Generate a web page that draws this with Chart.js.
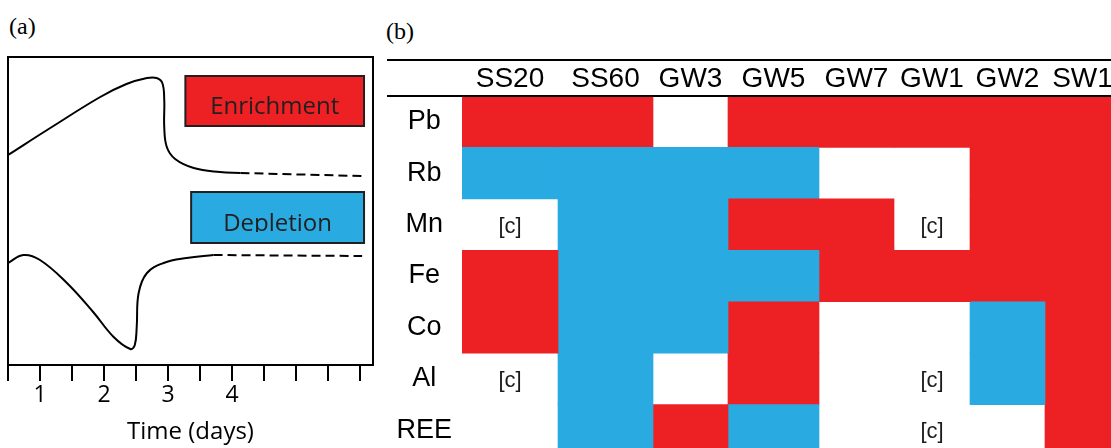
<!DOCTYPE html>
<html>
<head>
<meta charset="utf-8">
<script src="https://cdn.jsdelivr.net/npm/chart.js@4.4.0/dist/chart.umd.min.js"></script>
<style>
  html, body { margin: 0; padding: 0; background: #fff; overflow: hidden; width: 1111px; height: 448px; }
  #timeChart { position: absolute; left: 0; top: 0; }
  #tableChart { position: absolute; left: 380px; top: 0; }
  .panel { position: absolute; font-family: 'Liberation Serif', 'Times New Roman', serif; font-size: 24px; line-height: 24px; color: #000; }
</style>
</head>
<body>
<div class="panel" style="left:9px; top:14px;">(a)</div>
<div class="panel" style="left:386px; top:19px;">(b)</div>
<canvas id="timeChart" width="380" height="448"></canvas>
<canvas id="tableChart" width="740" height="456"></canvas>
<script>
const RED = '#ED2024';
const BLUE = '#29ABE2';
const INK = '#231F20';

// ---- panel (a): schematic response over time ----
const timeLabels = [1, 2, 3, 4];
const enrichX = [0.5, 1.16, 1.94, 2.35, 2.67, 2.82, 2.91, 2.94, 2.94, 2.98, 3.11, 3.40, 3.81, 4.13];
const enrichY = [210, 237, 268, 281, 287, 287, 282, 265, 238, 218, 206, 197, 193, 192];
const enrichTailX = [4.13, 6.03];
const enrichTailY = [192, 189];
const depleteX = [0.5, 0.74, 1.0, 1.42, 1.83, 2.15, 2.41, 2.48, 2.51, 2.54, 2.67, 2.93, 3.29, 3.71];
const depleteY = [102, 110, 105, 82, 53, 28, 16, 20, 38, 72, 92, 102, 107, 110];
const depleteTailX = [3.71, 6.03];
const depleteTailY = [110, 109];

// ---- panel (b): behaviour of each element at each site ----
const elements = ['Pb', 'Rb', 'Mn', 'Fe', 'Co', 'Al', 'REE'];
const sites = ['SS20', 'SS60', 'GW3', 'GW5', 'GW7', 'GW1', 'GW2', 'SW1'];
// E = enrichment, D = depletion, '' = neither, c = [c]
const Pb  = ['E', 'E', '',  'E', 'E', 'E', 'E', 'E'];
const Rb  = ['D', 'D', 'D', 'D', '',  '',  'E', 'E'];
const Mn  = ['c', 'D', 'D', 'E', 'E', 'c', 'E', 'E'];
const Fe  = ['E', 'D', 'D', 'D', 'E', 'E', 'E', 'E'];
const Co  = ['E', 'D', 'D', 'E', '',  '',  'D', 'E'];
const Al  = ['c', 'D', '',  'E', '',  'c', 'D', 'E'];
const REE = ['',  'D', 'E', 'D', '',  'c', '',  'E'];
const rows = [Pb, Rb, Mn, Fe, Co, Al, REE];

// table layout (pixel widths of the columns)
const colWidths = [96, 95, 75, 91, 75, 76, 75, 75];
const headerTop = 60;

const edges = [0];
colWidths.forEach(w => edges.push(edges[edges.length - 1] + w));

const keyBoxes = [
  { text: 'Enrichment', color: RED, x0: 3.27, x1: 6.06, y0: 239, y1: 289 },
  { text: 'Depletion', color: BLUE, x0: 3.36, x1: 6.06, y0: 122, y1: 173 }
];

function curve(xs, ys, dashed) {
  return {
    data: xs.map((x, i) => ({ x: x, y: ys[i] })),
    showLine: true,
    borderColor: '#000',
    borderWidth: 2,
    pointRadius: 0,
    tension: dashed ? 0 : 0.4,
    borderDash: dashed ? [9, 5] : []
  };
}

const timeDecor = {
  id: 'timeDecor',
  beforeDatasetsDraw(chart) {
    const ctx = chart.ctx;
    const x = chart.scales.x, y = chart.scales.y;
    keyBoxes.forEach(b => {
      const l = x.getPixelForValue(b.x0), r = x.getPixelForValue(b.x1);
      const t = y.getPixelForValue(b.y1), btm = y.getPixelForValue(b.y0);
      ctx.save();
      ctx.fillStyle = b.color;
      ctx.fillRect(l, t, r - l, btm - t);
      ctx.strokeStyle = INK;
      ctx.lineWidth = 2;
      ctx.strokeRect(l, t, r - l, btm - t);
      const base = btm - 12.5;
      ctx.beginPath();
      ctx.rect(l, t, r - l, base + 1.5 - t);
      ctx.clip();
      ctx.fillStyle = INK;
      ctx.font = '24px "Open Sans", sans-serif';
      ctx.textAlign = 'center';
      ctx.textBaseline = 'alphabetic';
      ctx.fillText(b.text, (l + r) / 2, base);
      ctx.restore();
    });
  },
  afterDraw(chart) {
    const ctx = chart.ctx, a = chart.chartArea;
    ctx.save();
    ctx.strokeStyle = '#000';
    ctx.lineWidth = 2;
    ctx.strokeRect(a.left, a.top, a.right - a.left, a.bottom - a.top);
    ctx.restore();
  }
};

new Chart(document.getElementById('timeChart'), {
  type: 'scatter',
  data: {
    datasets: [
      curve(enrichX, enrichY, false),
      curve(enrichTailX, enrichTailY, true),
      curve(depleteX, depleteY, false),
      curve(depleteTailX, depleteTailY, true)
    ]
  },
  options: {
    responsive: false,
    animation: false,
    layout: { padding: { left: 8, right: 7, top: 57, bottom: 0 } },
    plugins: { legend: { display: false }, tooltip: { enabled: false } },
    scales: {
      x: {
        type: 'linear', min: 0.5, max: 6.2,
        afterFit: s => { s.height = 83; },
        border: { display: false },
        grid: { drawOnChartArea: false, drawTicks: true, tickLength: 16, color: '#000', lineWidth: 2 },
        ticks: {
          stepSize: 0.5, includeBounds: false, autoSkip: false, maxRotation: 0, padding: 1,
          color: '#000', font: { family: 'Open Sans', size: 23 },
          callback: v => timeLabels.includes(v) ? String(v) : ''
        },
        title: {
          display: true, text: 'Time (days)', color: '#000', align: 'center',
          font: { family: 'Open Sans', size: 24 }, padding: { top: 0, bottom: 1 }
        }
      },
      y: { type: 'linear', min: 0, max: 308, display: false }
    }
  },
  plugins: [timeDecor]
});

// ---- panel (b) ----
const cellColor = { E: RED, D: BLUE, '': 'rgba(0,0,0,0)', c: 'rgba(0,0,0,0)' };

const tableSets = sites.map((site, j) => ({
  label: site,
  data: rows.map(() => [edges[j], edges[j + 1]]),
  backgroundColor: rows.map(r => cellColor[r[j]]),
  borderWidth: 0,
  grouped: false,
  barPercentage: 1,
  categoryPercentage: 1
}));

const cellNotes = {
  id: 'cellNotes',
  afterDatasetsDraw(chart) {
    const ctx = chart.ctx;
    ctx.save();
    ctx.font = '22px "Liberation Sans", Arial, sans-serif';
    ctx.fillStyle = '#1a1a1a';
    ctx.textAlign = 'center';
    ctx.textBaseline = 'middle';
    sites.forEach((s, j) => {
      chart.getDatasetMeta(j).data.forEach((bar, i) => {
        if (rows[i][j] === 'c') {
          const p = bar.getCenterPoint();
          ctx.fillText('[c]', p.x, p.y + 2);
        }
      });
    });
    ctx.restore();
  }
};

const tableRules = {
  id: 'tableRules',
  afterDraw(chart) {
    const ctx = chart.ctx;
    ctx.save();
    ctx.strokeStyle = '#000';
    ctx.lineWidth = 2;
    [headerTop, chart.chartArea.top].forEach(y => {
      ctx.beginPath();
      ctx.moveTo(7, y);
      ctx.lineTo(chart.width, y);
      ctx.stroke();
    });
    ctx.restore();
  }
};

new Chart(document.getElementById('tableChart'), {
  type: 'bar',
  data: { labels: elements, datasets: tableSets },
  options: {
    indexAxis: 'y',
    responsive: false,
    animation: false,
    layout: { padding: { top: headerTop, left: 0, right: 0, bottom: 0 } },
    plugins: { legend: { display: false }, tooltip: { enabled: false } },
    scales: {
      x: {
        type: 'linear', position: 'top', min: 0, max: edges[edges.length - 1],
        afterFit: s => { s.height = 36; s.paddingLeft = 0; s.paddingRight = 0; },
        afterBuildTicks: s => { s.ticks = sites.map((_, j) => ({ value: (edges[j] + edges[j + 1]) / 2 })); },
        grid: { display: false, drawTicks: false },
        border: { display: false },
        ticks: {
          autoSkip: false, maxRotation: 0, padding: 0, color: '#000',
          font: { family: 'Liberation Sans', size: 28 },
          callback: (v, i) => sites[i]
        }
      },
      y: {
        type: 'category',
        afterFit: s => { s.width = 82; s.paddingTop = 0; s.paddingBottom = 0; },
        grid: { display: false, drawTicks: false },
        border: { display: false },
        ticks: { crossAlign: 'center', padding: 10, color: '#000', font: { family: 'Liberation Sans', size: 27 } }
      }
    }
  },
  plugins: [cellNotes, tableRules]
});
</script>
</body>
</html>
